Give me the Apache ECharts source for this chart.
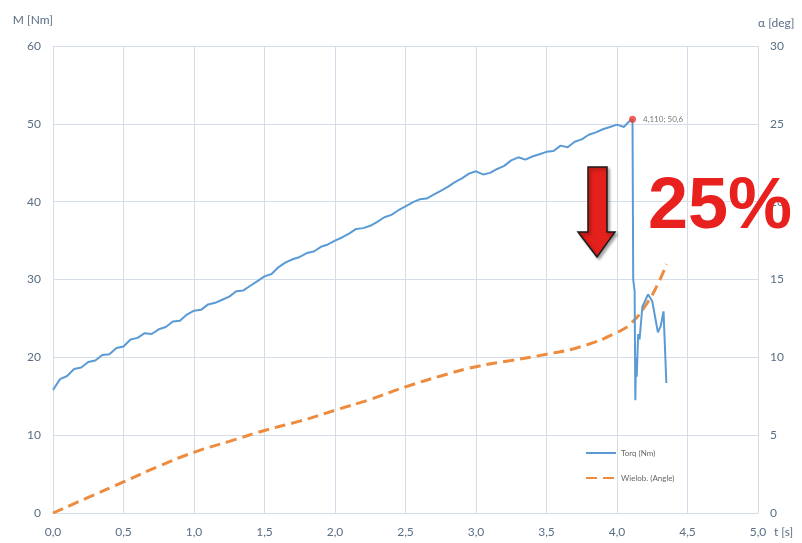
<!DOCTYPE html>
<html>
<head>
<meta charset="utf-8">
<script src="https://cdn.jsdelivr.net/npm/echarts@6/dist/echarts.min.js"></script>
<style>
  html, body { margin: 0; padding: 0; background: #fff; }
  #chart { width: 802px; height: 543px; }
</style>
</head>
<body>
<div id="chart"></div>
<script>
// torque readings (t [s], M [Nm])
const torqueTime = [
  0.00, 0.05, 0.10, 0.15, 0.20, 0.25, 0.30, 0.35, 0.40, 0.45,
  0.50, 0.55, 0.60, 0.65, 0.70, 0.75, 0.80, 0.85, 0.90, 0.95,
  1.00, 1.05, 1.10, 1.15, 1.20, 1.25, 1.30, 1.35, 1.40, 1.45,
  1.50, 1.55, 1.60, 1.65, 1.70, 1.75, 1.80, 1.85, 1.90, 1.95,
  2.00, 2.05, 2.10, 2.15, 2.20, 2.25, 2.30, 2.35, 2.40, 2.45,
  2.50, 2.55, 2.60, 2.65, 2.70, 2.75, 2.80, 2.85, 2.90, 2.95,
  3.00, 3.05, 3.10, 3.15, 3.20, 3.25, 3.30, 3.35, 3.40, 3.45,
  3.50, 3.55, 3.60, 3.65, 3.70, 3.75, 3.80, 3.85, 3.90, 3.95,
  4.00, 4.05, 4.08, 4.11,
  4.115, 4.125, 4.13, 4.135, 4.14, 4.15, 4.16, 4.18, 4.22, 4.25,
  4.29, 4.31, 4.33, 4.35
]
const torque = [
  15.8, 17.2, 17.6, 18.5, 18.7, 19.4, 19.6, 20.3, 20.4, 21.2,
  21.4, 22.3, 22.5, 23.1, 23.0, 23.6, 23.9, 24.6, 24.7, 25.5,
  26.0, 26.1, 26.8, 27.0, 27.4, 27.8, 28.5, 28.6, 29.2, 29.8,
  30.4, 30.7, 31.6, 32.2, 32.6, 32.9, 33.4, 33.6, 34.2, 34.5,
  35.0, 35.4, 35.9, 36.5, 36.6, 36.9, 37.4, 38.0, 38.3, 38.9,
  39.4, 39.9, 40.3, 40.4, 40.9, 41.4, 41.9, 42.5, 43.0, 43.6,
  43.9, 43.5, 43.7, 44.2, 44.6, 45.3, 45.7, 45.4, 45.8, 46.1,
  46.4, 46.5, 47.2, 47.0, 47.7, 48.0, 48.6, 48.9, 49.3, 49.6,
  49.9, 49.6, 50.2, 50.6,
  30.0, 28.5, 14.5, 20.0, 17.5, 23.0, 22.3, 26.5, 28.1, 27.2,
  23.2, 24.0, 25.9, 16.7
]

// polynomial trend of the angle (t [s], alpha [deg])
const angleTime = [0, 0.25, 0.5, 0.75, 1.0, 1.25, 1.5, 1.75, 2.0, 2.25, 2.5, 2.75,
  3.0, 3.25, 3.5, 3.75, 4.0, 4.1, 4.2, 4.3, 4.35]
const angle = [0, 1.0, 2.0, 3.0, 3.9, 4.6, 5.3, 5.9, 6.6, 7.3, 8.1, 8.8,
  9.4, 9.8, 10.2, 10.7, 11.6, 12.2, 13.3, 14.9, 16.0]

const peakPoint = [4.110, 50.6]
const peakLabel = '4,110; 50,6'

const xTicks = ['0,0', '0,5', '1,0', '1,5', '2,0', '2,5', '3,0', '3,5', '4,0', '4,5', '5,0']

const labelColor = '#5a6e84'
const gridColor = '#d5dee8'
const font = 'Lato, "Open Sans", sans-serif'

const chart = echarts.init(document.getElementById('chart'))

const option = {
  animation: false,
  grid: { left: 53, right: 44, top: 46, bottom: 30, containLabel: false },
  legend: {
    orient: 'vertical',
    left: 580,
    top: 444,
    itemWidth: 30,
    itemHeight: 10,
    itemGap: 17,
    data: ['Torq (Nm)', 'Wielob. (Angle)'],
    itemStyle: { opacity: 0 },
    textStyle: { fontSize: 8, color: '#666', fontFamily: font }
  },
  xAxis: {
    type: 'value',
    min: 0,
    max: 5,
    interval: 0.5,
    name: 't [s]',
    nameLocation: 'end',
    nameGap: 16,
    nameTextStyle: { color: labelColor, fontSize: 12, fontFamily: font, verticalAlign: 'top', padding: [13, 0, 0, 0] },
    axisLine: { lineStyle: { color: gridColor } },
    axisTick: { show: false },
    axisLabel: {
      color: labelColor, fontSize: 12, fontFamily: font, margin: 13,
      formatter: v => xTicks[Math.round(v / 0.5)]
    },
    splitLine: { show: true, lineStyle: { color: gridColor } }
  },
  yAxis: [
    {
      type: 'value',
      min: 0,
      max: 60,
      interval: 10,
      name: 'M [Nm]',
      nameLocation: 'end',
      nameGap: 26,
      nameTextStyle: { color: labelColor, fontSize: 12, fontFamily: font, align: 'right', verticalAlign: 'middle' },
      axisLine: { show: false },
      axisTick: { show: false },
      axisLabel: { color: labelColor, fontSize: 12, fontFamily: font, margin: 12 },
      splitLine: { show: true, lineStyle: { color: gridColor } }
    },
    {
      type: 'value',
      min: 0,
      max: 30,
      interval: 5,
      name: 'α [deg]',
      nameLocation: 'end',
      nameGap: 23,
      nameTextStyle: { color: labelColor, fontSize: 12, fontFamily: font, align: 'left', verticalAlign: 'middle' },
      axisLine: { show: false },
      axisTick: { show: false },
      axisLabel: { color: labelColor, fontSize: 12, fontFamily: font, margin: 12 },
      splitLine: { show: false }
    }
  ],
  series: [
    {
      name: 'Torq (Nm)',
      type: 'line',
      yAxisIndex: 0,
      symbol: 'none',
      data: torqueTime.map((t, i) => [t, torque[i]]),
      lineStyle: { color: '#5b9bd5', width: 2 },
      itemStyle: { color: '#5b9bd5' },
      z: 3
    },
    {
      name: 'Wielob. (Angle)',
      type: 'line',
      yAxisIndex: 1,
      symbol: 'none',
      smooth: true,
      data: angleTime.map((t, i) => [t, angle[i]]),
      lineStyle: { color: '#ed8b3f', width: 3, type: [11, 6] },
      itemStyle: { color: '#ed8b3f' },
      z: 2
    },
    {
      name: 'peak',
      type: 'scatter',
      yAxisIndex: 0,
      symbolSize: 7,
      data: [peakPoint],
      itemStyle: { color: '#ee3a2f' },
      label: {
        show: true,
        position: 'right',
        distance: 7,
        formatter: peakLabel,
        fontSize: 8,
        color: '#555',
        fontFamily: font
      },
      z: 4
    }
  ],
  graphic: [
    {
      type: 'polygon',
      z: 100,
      shape: {
        points: [[588, 167], [607, 167], [607, 232], [615, 232], [597, 257], [578, 232], [588, 232]]
      },
      style: {
        fill: '#e3201b',
        stroke: '#1a1a1a',
        lineWidth: 1.5,
        shadowBlur: 3,
        shadowColor: 'rgba(0,0,0,0.35)',
        shadowOffsetX: 2,
        shadowOffsetY: 2
      }
    },
    {
      type: 'text',
      z: 100,
      left: 648,
      top: 172,
      style: {
        text: '25%',
        font: 'bold 72px "Liberation Sans", Arial, sans-serif',
        fill: '#e8201e',
        shadowBlur: 4,
        shadowColor: 'rgba(0,0,0,0.55)',
        shadowOffsetX: 3,
        shadowOffsetY: 3
      }
    }
  ]
}

chart.setOption(option)
</script>
</body>
</html>
